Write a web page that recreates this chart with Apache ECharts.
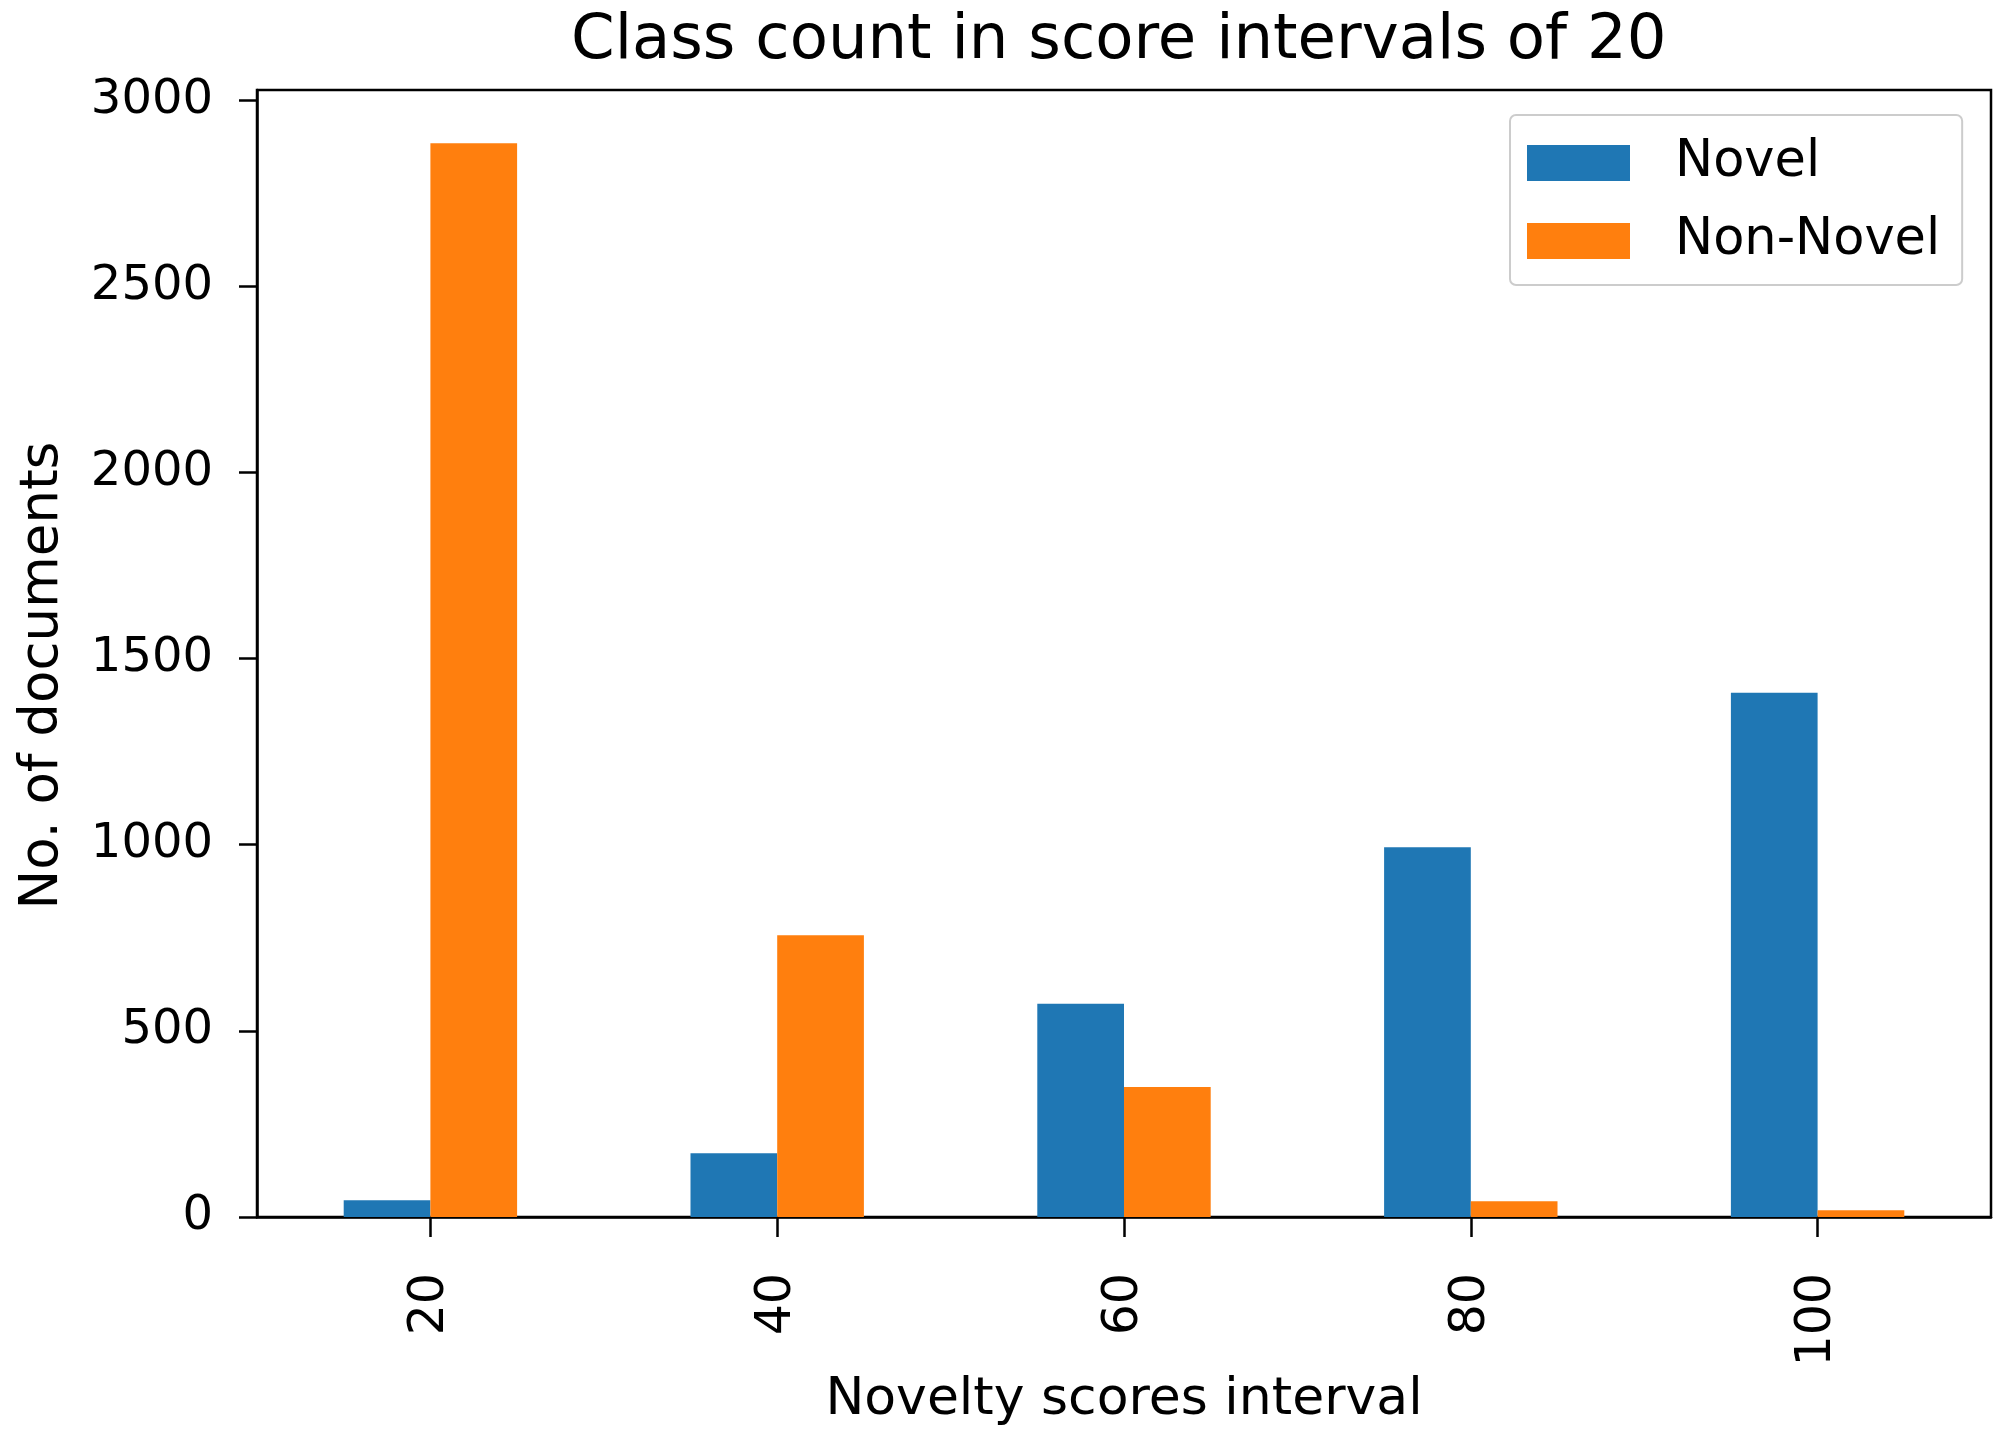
<!DOCTYPE html>
<html>
<head>
<meta charset="utf-8">
<script src="https://cdn.jsdelivr.net/npm/echarts@6/dist/echarts.min.js"></script>
<style>
html,body{margin:0;padding:0;background:#fff;}
#chart{width:2000px;height:1434px;}
</style>
</head>
<body>
<div id="chart"></div>
<script>
const categories = ['20', '40', '60', '80', '100'];
const novel = [45, 171, 573, 993, 1408];
const nonNovel = [2884, 757, 349, 42, 18];
const yTicks = [0, 500, 1000, 1500, 2000, 2500, 3000];
const seriesNames = ['Novel', 'Non-Novel'];

const FONT = 'DejaVu Sans';
const chart = echarts.init(document.getElementById('chart'), null, {renderer: 'canvas'});
chart.setOption({
  backgroundColor: '#ffffff',
  animation: false,
  textStyle: {fontFamily: FONT, color: '#000'},
  title: {
    text: 'Class count in score intervals of 20',
    left: 566, top: 5,
    textStyle: {fontFamily: FONT, fontSize: 62.5, fontWeight: 'normal', color: '#000'}
  },
  legend: {
    data: seriesNames,
    orient: 'vertical',
    left: 1510, top: 115,
    icon: 'rect',
    itemWidth: 103, itemHeight: 36,
    itemGap: 22,
    padding: [20, 22, 16, 17],
    borderColor: '#cccccc', borderWidth: 2, borderRadius: 6,
    backgroundColor: '#ffffff',
    textStyle: {fontFamily: FONT, fontSize: 51, color: '#000', padding: [0, 0, 0, 40], lineHeight: 56}
  },
  grid: {
    left: 257, right: 9, top: 90, bottom: 217,
    show: true, borderColor: '#000', borderWidth: 2.5,
    containLabel: false, outerBoundsMode: 'none'
  },
  xAxis: {
    type: 'category',
    data: categories,
    boundaryGap: true,
    name: 'Novelty scores interval',
    nameLocation: 'middle',
    nameGap: 144,
    nameTextStyle: {fontFamily: FONT, fontSize: 52, color: '#000'},
    axisLine: {show: true, lineStyle: {color: '#000', width: 2.5}},
    axisTick: {show: true, alignWithLabel: true, length: 20, lineStyle: {color: '#000', width: 2.5}},
    axisLabel: {rotate: 90, margin: 56, fontFamily: FONT, fontSize: 49, color: '#000'},
    splitLine: {show: false}
  },
  yAxis: {
    type: 'value',
    min: 0, max: 3027, interval: 500,
    name: 'No. of documents',
    nameLocation: 'middle',
    nameGap: 187,
    nameTextStyle: {fontFamily: FONT, fontSize: 53, color: '#000', padding: [0, 44, 0, 0]},
    axisLine: {show: true, lineStyle: {color: '#000', width: 2.5}},
    axisTick: {show: true, length: 18, lineStyle: {color: '#000', width: 2.5}, customValues: yTicks},
    axisLabel: {margin: 44, fontFamily: FONT, fontSize: 48, color: '#000', customValues: yTicks,
      formatter: function (v) { return String(Math.round(v)); }},
    splitLine: {show: false}
  },
  series: [
    {name: seriesNames[0], type: 'bar', data: novel, barWidth: '25%', barGap: '0%', itemStyle: {color: '#1f77b4'}},
    {name: seriesNames[1], type: 'bar', data: nonNovel, barWidth: '25%', barGap: '0%', itemStyle: {color: '#ff7f0e'}}
  ]
});
</script>
</body>
</html>
